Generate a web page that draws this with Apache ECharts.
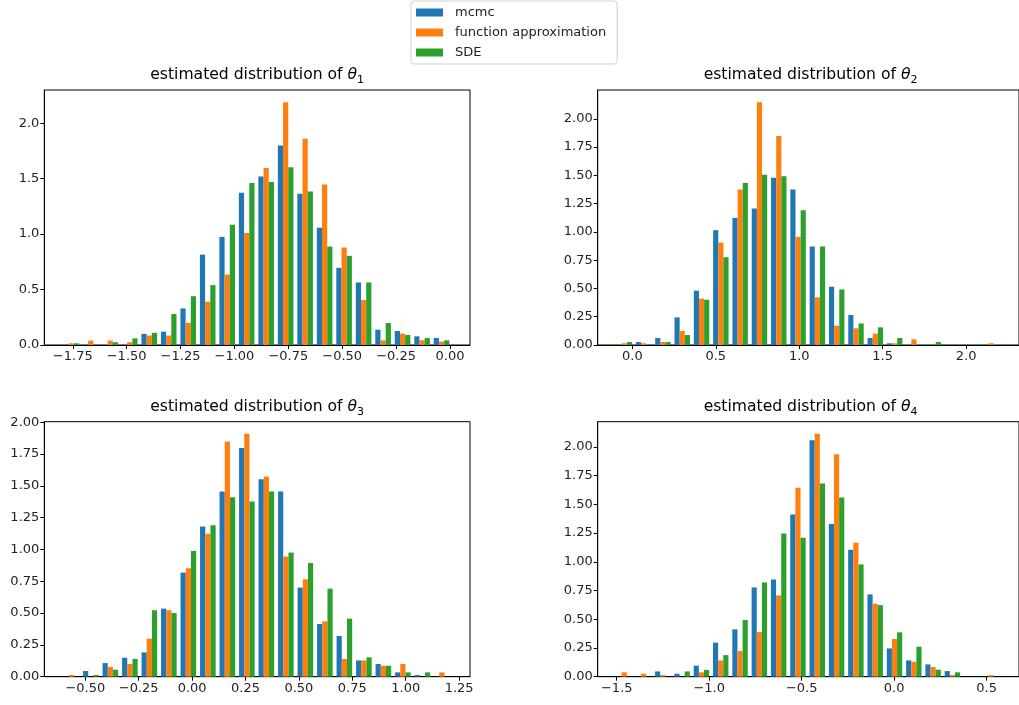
<!DOCTYPE html>
<html>
<head>
<meta charset="utf-8">
<script src="https://cdn.jsdelivr.net/npm/echarts@6/dist/echarts.min.js"></script>
<style>
  html, body { margin: 0; padding: 0; background: #fff; }
  #chart { width: 1019px; height: 705px; }
</style>
</head>
<body>
<div id="chart"></div>
<script>
const seriesNames = ['mcmc', 'function approximation', 'SDE'];
const seriesColors = ['#1f77b4', '#ff7f0e', '#2ca02c'];

// densities per bin (20 bins)
const theta1Mcmc = [0, 0, 0, 0, 0.10, 0.12, 0.33, 0.815, 0.975, 1.373, 1.52, 1.80, 1.364, 1.058, 0.696, 0.564, 0.138, 0.126, 0.078, 0.063];
const theta1Func = [0.015, 0.04, 0.04, 0.025, 0.085, 0.085, 0.20, 0.39, 0.635, 1.01, 1.595, 2.19, 1.86, 1.448, 0.879, 0.405, 0.042, 0.102, 0.042, 0.03];
const theta1Sde = [0.015, 0, 0.025, 0.06, 0.11, 0.28, 0.44, 0.54, 1.085, 1.46, 1.47, 1.604, 1.385, 0.888, 0.804, 0.564, 0.198, 0.09, 0.063, 0.042];

const theta2Mcmc = [0, 0.026, 0.062, 0.244, 0.48, 1.015, 1.124, 1.206, 1.479, 1.374, 0.871, 0.515, 0.265, 0.062, 0.015, 0, 0, 0, 0, 0];
const theta2Func = [0.015, 0.015, 0.026, 0.124, 0.41, 0.906, 1.374, 2.147, 1.847, 0.956, 0.421, 0.171, 0.147, 0.10, 0.015, 0.05, 0, 0, 0, 0.015];
const theta2Sde = [0.026, 0, 0.026, 0.088, 0.40, 0.776, 1.432, 1.506, 1.491, 1.191, 0.871, 0.491, 0.191, 0.156, 0.062, 0, 0.026, 0, 0, 0];

const theta3Mcmc = [0, 0.045, 0.107, 0.149, 0.191, 0.535, 0.818, 1.18, 1.455, 1.796, 1.552, 1.455, 0.70, 0.414, 0.32, 0.128, 0.10, 0.034, 0.013, 0];
const theta3Func = [0.013, 0, 0.076, 0.10, 0.299, 0.522, 0.852, 1.124, 1.848, 1.908, 1.573, 0.944, 0.765, 0.435, 0.139, 0.128, 0.086, 0.10, 0, 0.034];
const theta3Sde = [0, 0.013, 0.055, 0.139, 0.522, 0.50, 0.988, 1.19, 1.41, 1.376, 1.455, 0.975, 0.893, 0.692, 0.456, 0.152, 0.086, 0.034, 0.034, 0];

const theta4Mcmc = [0, 0, 0.046, 0.026, 0.096, 0.296, 0.412, 0.777, 0.846, 1.412, 2.058, 1.328, 1.104, 0.716, 0.246, 0.142, 0.107, 0.049, 0, 0];
const theta4Func = [0.038, 0.026, 0.014, 0, 0.038, 0.142, 0.223, 0.388, 0.707, 1.643, 2.113, 1.936, 1.165, 0.635, 0.328, 0.130, 0.084, 0.014, 0, 0.014];
const theta4Sde = [0, 0, 0, 0.046, 0.058, 0.188, 0.493, 0.82, 1.246, 1.209, 1.681, 1.559, 0.977, 0.623, 0.386, 0.261, 0.061, 0.038, 0, 0];

// bin start / width, and x axis limits
const binStart = [-1.802, -0.106, -0.611, -1.512];
const binWidth = [0.0904, 0.1157, 0.0913, 0.1044];
const xMin = [-1.882, -0.2076, -0.692, -1.603];
const xMax = [0.0928, 2.317, 1.301, 0.675];

// tick labels
const xTicks1 = [-1.75, -1.5, -1.25, -1.0, -0.75, -0.5, -0.25, 0];
const xTicks2 = [0, 0.5, 1.0, 1.5, 2.0];
const xTicks3 = [-0.5, -0.25, 0, 0.25, 0.5, 0.75, 1.0, 1.25];
const xTicks4 = [-1.5, -1.0, -0.5, 0, 0.5];
const yTicks1 = [0, 0.5, 1.0, 1.5, 2.0];
const yTicksQ = [0, 0.25, 0.5, 0.75, 1.0, 1.25, 1.5, 1.75, 2.0];

const plots = [
  { data: [theta1Mcmc, theta1Func, theta1Sde], xTicks: xTicks1, xDec: 2, yTicks: yTicks1, yDec: 1 },
  { data: [theta2Mcmc, theta2Func, theta2Sde], xTicks: xTicks2, xDec: 1, yTicks: yTicksQ, yDec: 2 },
  { data: [theta3Mcmc, theta3Func, theta3Sde], xTicks: xTicks3, xDec: 2, yTicks: yTicksQ, yDec: 2 },
  { data: [theta4Mcmc, theta4Func, theta4Sde], xTicks: xTicks4, xDec: 1, yTicks: yTicksQ, yDec: 2 }
];

const boxes = [
  { left: 44.3, top: 90 },
  { left: 597.7, top: 90 },
  { left: 44.3, top: 421.7 },
  { left: 597.7, top: 421.7 }
];
const boxW = 425.7;
const boxH = 255;
const FONT = 'DejaVu Sans';
const TEXT = '#222';

function fmt (dec) {
  return function (v) {
    return v.toFixed(dec).replace('-', '\u2212');
  };
}

// matplotlib style: 3 bars share 80% of each bin
function makeBars (start, width, heights, k) {
  const dw = 0.8 * width / 3;
  return heights.map((h, i) => {
    const x0 = start + i * width + 0.1 * width + k * dw;
    return [x0, x0 + dw, h];
  });
}

function renderBar (params, api) {
  const h = api.value(2);
  if (!h) return null;
  const p0 = api.coord([api.value(0), h]);
  const p1 = api.coord([api.value(1), 0]);
  return {
    type: 'rect',
    shape: { x: p0[0], y: p0[1], width: p1[0] - p0[0], height: p1[1] - p0[1] },
    style: { fill: api.visual('color') }
  };
}

const grid = [];
const xAxis = [];
const yAxis = [];
const series = [];
const graphic = [];

plots.forEach((p, i) => {
  const b = boxes[i];
  grid.push({
    left: b.left, top: b.top, width: boxW, height: boxH,
    show: true, borderColor: '#000', borderWidth: 1, backgroundColor: '#fff'
  });
  xAxis.push({
    type: 'value', gridIndex: i, min: xMin[i], max: xMax[i],
    splitLine: { show: false },
    axisLine: { show: true, onZero: false, lineStyle: { color: '#000', width: 1 } },
    axisTick: { show: true, length: 4, customValues: p.xTicks, lineStyle: { color: '#000' } },
    axisLabel: { customValues: p.xTicks, formatter: fmt(p.xDec), color: TEXT, fontSize: 13, fontFamily: FONT, margin: 5 }
  });
  let top = 0;
  p.data.forEach(arr => arr.forEach(v => { if (v > top) top = v; }));
  yAxis.push({
    type: 'value', gridIndex: i, min: 0, max: top * 1.05,
    splitLine: { show: false },
    axisLine: { show: true, onZero: false, lineStyle: { color: '#000', width: 1 } },
    axisTick: { show: true, length: 4, customValues: p.yTicks, lineStyle: { color: '#000' } },
    axisLabel: { customValues: p.yTicks, formatter: fmt(p.yDec), color: TEXT, fontSize: 13, fontFamily: FONT, margin: 5 }
  });
  p.data.forEach((arr, k) => {
    series.push({
      type: 'custom',
      name: seriesNames[k],
      xAxisIndex: i,
      yAxisIndex: i,
      itemStyle: { color: seriesColors[k] },
      renderItem: renderBar,
      encode: { x: [0, 1], y: 2 },
      data: makeBars(binStart[i], binWidth[i], arr, k),
      silent: true
    });
  });
  graphic.push({
    type: 'text',
    x: b.left + boxW / 2,
    y: b.top - 15,
    style: {
      text: '{a|estimated distribution of }{t|θ}{s|' + (i + 1) + '}',
      align: 'center',
      verticalAlign: 'middle',
      fill: '#000',
      rich: {
        a: { fontSize: 15.6, fontFamily: FONT, lineHeight: 22, fill: '#000' },
        t: { fontSize: 15.6, fontFamily: FONT, fontStyle: 'italic', lineHeight: 22, fill: '#000' },
        s: { fontSize: 11, fontFamily: FONT, verticalAlign: 'bottom', lineHeight: 11, fill: '#000' }
      }
    }
  });
});

const chart = echarts.init(document.getElementById('chart'));
chart.setOption({
  animation: false,
  backgroundColor: '#fff',
  legend: {
    data: seriesNames,
    orient: 'vertical',
    left: 411,
    top: 1,
    icon: 'rect',
    itemWidth: 27,
    itemHeight: 8,
    itemGap: 5,
    padding: [4, 11, 4, 5],
    borderColor: '#d0d0d0',
    borderWidth: 1,
    borderRadius: 3,
    backgroundColor: '#fff',
    selectedMode: false,
    textStyle: { color: TEXT, fontSize: 13, fontFamily: FONT, lineHeight: 15, padding: [0, 0, 0, 7] }
  },
  grid: grid,
  xAxis: xAxis,
  yAxis: yAxis,
  series: series,
  graphic: graphic
});
</script>
</body>
</html>
